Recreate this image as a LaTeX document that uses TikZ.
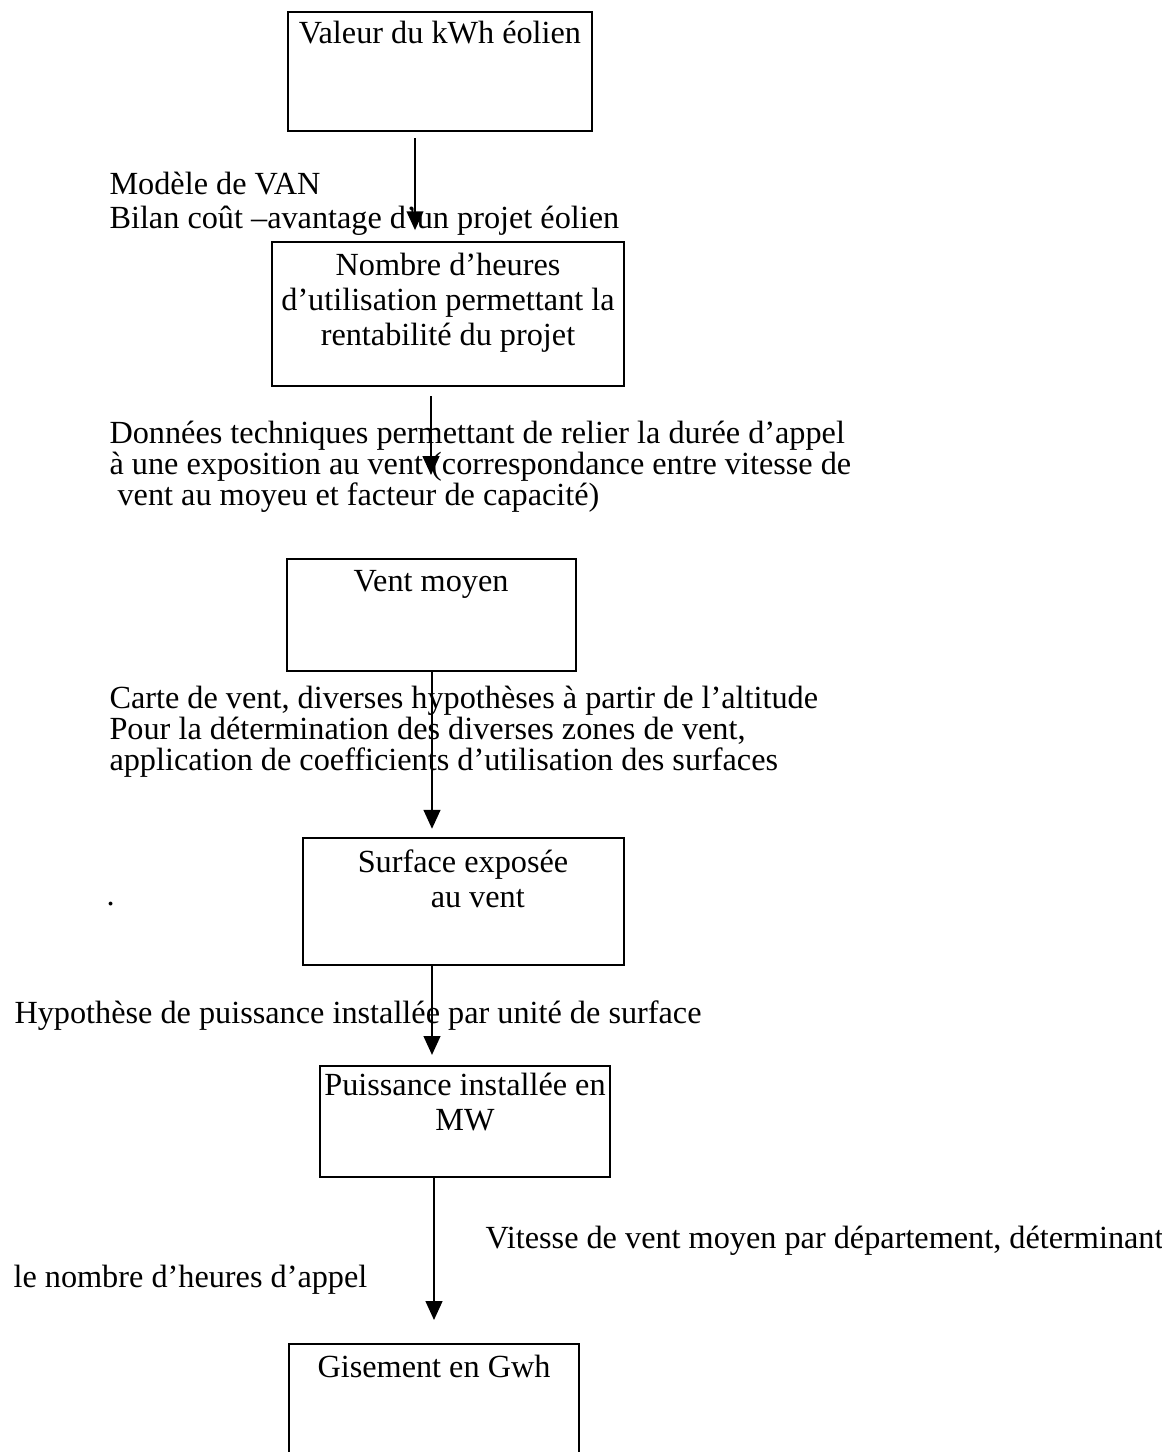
\documentclass[tikz,border=0pt]{standalone}
\usepackage{fontspec}
\setmainfont{Liberation Serif}
\usetikzlibrary{arrows.meta,fit}

\begin{document}
\begin{tikzpicture}[x=0.372pt,y=-0.372pt,
    box/.style={draw,line width=0.85pt,inner sep=0pt},
    flow/.style={-{Triangle[width=6.2pt,length=7pt]},line width=0.75pt},
    note/.style={anchor=base west,inner sep=0pt,align=left,font=\fontsize{12pt}{11.4pt}\selectfont},
    boxtext/.style={anchor=base,inner sep=0pt,align=center,font=\fontsize{12pt}{13pt}\selectfont}]
  \useasboundingbox (0,0) rectangle (1162,1452);
  \clip (0,0) rectangle (1162,1452);
  % boxes
  \node[box,fit={(288,12) (592,131)}] (valeur) {};
  \node[box,fit={(272,242) (624,386)}] (heures) {};
  \node[box,fit={(287,559) (576,671)}] (vent) {};
  \node[box,fit={(303,838) (624,965)}] (surface) {};
  \node[box,fit={(320,1066) (610,1177)}] (puissance) {};
  \node[box,fit={(289,1344) (579,1480)}] (gisement) {};
  % texts in the boxes (base = last line)
  \node[boxtext] (valeur-t) at (440,43) {Valeur du kWh éolien};
  \node[boxtext] (heures-t) at (448,345) {Nombre d’heures\\d’utilisation permettant la\\rentabilité du projet};
  \node[boxtext] (vent-t) at (431,591) {Vent moyen};
  \node[boxtext] (surface-t) at (463,907) {Surface exposée\\\hspace*{11pt}au vent};
  \node[boxtext] (puissance-t) at (465,1130) {Puissance installée en\\MW};
  \node[boxtext] (gisement-t) at (434,1377) {Gisement en Gwh};
  % labels
  \node[note,font=\fontsize{12pt}{12.3pt}\selectfont] (van) at (109,228) {Modèle de VAN\\Bilan coût –avantage d’un projet éolien};
  \node[note] (donnees) at (109,505) {Données techniques permettant de relier la durée d’appel\\à une exposition au vent (correspondance entre vitesse de\\\ vent au moyeu et facteur de capacité)};
  \node[note] (carte) at (109,770) {Carte de vent, diverses hypothèses à partir de l’altitude\\Pour la détermination des diverses zones de vent,\\application de coefficients d’utilisation des surfaces};
  \node[note] (point) at (106,905) {.};
  \node[note] (hypo) at (14,1023) {Hypothèse de puissance installée par unité de surface};
  \node[note] (vitesse) at (485,1248) {Vitesse de vent moyen par département, déterminant};
  \node[note] (nombre) at (13,1287) {le nombre d’heures d’appel};
  % arrows
  \coordinate (tip2) at (431,475);
  \draw[flow,shorten <=2.2pt,shorten >=4pt] (valeur.south -| 415,0) -- (heures.north -| 415,0);
  \draw[flow,shorten <=3.3pt] (heures.south -| tip2) -- (tip2);
  \draw[flow,shorten >=3pt] (vent.south -| 432,0) -- (surface.north -| 432,0);
  \draw[flow,shorten >=3.7pt] (surface.south -| 432,0) -- (puissance.north -| 432,0);
  \draw[flow,shorten >=8.5pt] (puissance.south -| 434,0) -- (gisement.north -| 434,0);
\end{tikzpicture}
\end{document}
